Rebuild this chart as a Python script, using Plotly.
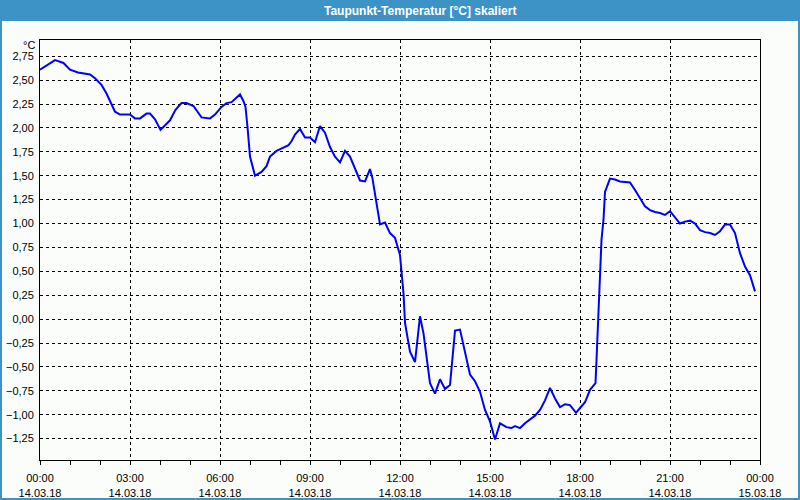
import plotly.graph_objects as go
import pandas as pd

# ---- data ----
times = ["00:00","00:30","00:47","01:00","01:16","01:40","01:50","02:03","02:13","02:30",
         "02:40","03:00","03:10","03:20","03:33","03:40","03:50","04:01","04:20","04:31",
         "04:43","04:53","05:07","05:23","05:40","05:50","06:03","06:13","06:23","06:30",
         "06:40","06:47","06:51","06:55","07:00","07:10","07:23","07:33","07:40","07:53",
         "08:07","08:17","08:23","08:30","08:40","08:50","09:00","09:10","09:20","09:30",
         "09:40","09:50","10:00","10:10","10:20","10:33","10:40","10:50","11:00","11:05",
         "11:13","11:20","11:30","11:40","11:50","12:00","12:07","12:10","12:20","12:30",
         "12:40","12:47","13:00","13:10","13:20","13:30","13:40","13:50","14:00","14:10",
         "14:20","14:30","14:40","14:50","15:00","15:10","15:20","15:33","15:43","15:50",
         "16:00","16:10","16:20","16:30","16:40","16:50","17:00","17:10","17:20","17:30",
         "17:40","17:52","18:00","18:10","18:20","18:31","18:33","18:37","18:40","18:43",
         "18:47","18:50","19:00","19:10","19:20","19:40","19:50","20:00","20:10","20:20",
         "20:30","20:40","20:50","21:00","21:10","21:20","21:30","21:40","21:50","22:00",
         "22:10","22:20","22:30","22:40","22:50","23:00","23:10","23:20","23:30","23:40",
         "23:50"]
dewpoint = [2.61,2.71,2.68,2.61,2.58,2.56,2.52,2.45,2.36,2.17,
            2.14,2.14,2.10,2.10,2.15,2.15,2.09,1.98,2.08,2.19,
            2.26,2.26,2.23,2.11,2.10,2.14,2.22,2.26,2.27,2.30,
            2.35,2.28,2.22,2.01,1.70,1.50,1.54,1.60,1.70,1.76,
            1.80,1.82,1.86,1.93,1.99,1.90,1.90,1.85,2.02,1.95,
            1.80,1.70,1.64,1.76,1.70,1.54,1.45,1.44,1.57,1.47,
            1.21,0.99,1.01,0.90,0.85,0.67,0.27,-0.04,-0.34,-0.45,
            0.03,-0.15,-0.67,-0.78,-0.63,-0.73,-0.69,-0.12,-0.11,-0.34,
            -0.58,-0.65,-0.76,-0.95,-1.07,-1.26,-1.09,-1.13,-1.14,-1.12,
            -1.14,-1.09,-1.05,-1.01,-0.95,-0.85,-0.72,-0.83,-0.92,-0.89,
            -0.90,-0.98,-0.93,-0.87,-0.74,-0.67,-0.43,0.10,0.62,0.83,
            1.04,1.33,1.47,1.46,1.44,1.43,1.35,1.26,1.18,1.14,
            1.12,1.11,1.09,1.13,1.06,1.00,1.02,1.03,1.00,0.93,
            0.91,0.90,0.88,0.92,0.99,0.99,0.90,0.69,0.55,0.46,
            0.29]
x_tick_times = ["2018-03-14 00:00","2018-03-14 03:00","2018-03-14 06:00","2018-03-14 09:00",
                "2018-03-14 12:00","2018-03-14 15:00","2018-03-14 18:00","2018-03-14 21:00",
                "2018-03-15 00:00"]
x_tick_labels = ["00:00<br>14.03.18","03:00<br>14.03.18","06:00<br>14.03.18","09:00<br>14.03.18",
                 "12:00<br>14.03.18","15:00<br>14.03.18","18:00<br>14.03.18","21:00<br>14.03.18",
                 "00:00<br>15.03.18"]
y_ticks = [-1.25,-1.0,-0.75,-0.5,-0.25,0.0,0.25,0.5,0.75,1.0,1.25,1.5,1.75,2.0,2.25,2.5,2.75]
title_text = "Taupunkt-Temperatur [°C] skaliert"
unit_text = "°C"

x = pd.to_datetime(["2018-03-14 " + t for t in times])

W, H = 800, 500
L, R, T, B = 40, 40, 40, 40
pw, ph = W - L - R, H - T - B
def px(xp):  # pixel x -> paper
    return (xp - L) / pw
def py(yp):  # pixel y -> paper
    return (H - B - yp) / ph

BG = "#FBFDFB"
BAR = "#3D93C6"
FONT = "Liberation Sans"

fig = go.Figure()
fig.add_trace(go.Scatter(x=x, y=dewpoint, mode="lines",
                         line=dict(color="#0000FF", width=2), hoverinfo="skip"))

fig.update_layout(
    width=W, height=H,
    margin=dict(l=L, r=R, t=T, b=B, autoexpand=False),
    paper_bgcolor=BG, plot_bgcolor=BG,
    separators=",.",
    showlegend=False,
    font=dict(family=FONT, size=11, color="#000000"),
    xaxis=dict(
        type="date", automargin=False,
        range=["2018-03-14 00:00", "2018-03-15 00:00"],
        tickmode="array", tickvals=x_tick_times, ticktext=x_tick_labels,
        showgrid=True, gridcolor="#000000", gridwidth=1, griddash="3px,3px",
        showline=True, linecolor="#000000", linewidth=1, mirror=True,
        ticks="outside", ticklen=4, tickcolor="#000000", ticklabelstandoff=4,
        minor=dict(dtick=3600000, ticks="outside", ticklen=4, tickcolor="#000000",
                   showgrid=False),
        zeroline=False, fixedrange=True,
    ),
    yaxis=dict(
        automargin=False,
        range=[-1.474, 2.92],
        tickmode="array", tickvals=y_ticks, tickformat=".2f",
        showgrid=True, gridcolor="#000000", gridwidth=1, griddash="3px,3px",
        showline=True, linecolor="#000000", linewidth=1, mirror=True,
        ticks="", ticklabelstandoff=3,
        zeroline=False, fixedrange=True,
    ),
    shapes=[
        dict(type="rect", xref="paper", yref="paper", x0=px(0), x1=px(800), y0=py(21), y1=py(0),
             fillcolor=BAR, line=dict(width=0), layer="above"),
        dict(type="rect", xref="paper", yref="paper", x0=px(0), x1=px(2), y0=py(500), y1=py(21),
             fillcolor=BAR, line=dict(width=0), layer="above"),
        dict(type="rect", xref="paper", yref="paper", x0=px(798), x1=px(800), y0=py(500), y1=py(21),
             fillcolor=BAR, line=dict(width=0), layer="above"),
        dict(type="rect", xref="paper", yref="paper", x0=px(0), x1=px(800), y0=py(500), y1=py(498),
             fillcolor=BAR, line=dict(width=0), layer="above"),
    ],
    annotations=[
        dict(text="<b>" + title_text + "</b>", xref="paper", yref="paper",
             x=px(420), y=py(10.5), xanchor="center", yanchor="middle", showarrow=False,
             font=dict(family=FONT, size=12, color="#FFFFFF")),
        dict(text=unit_text, xref="paper", yref="paper",
             x=px(37), y=py(45), xanchor="right", yanchor="middle", showarrow=False,
             font=dict(family=FONT, size=11, color="#000000")),
    ],
)

fig.write_html("out.html", config=dict(displayModeBar=False))
